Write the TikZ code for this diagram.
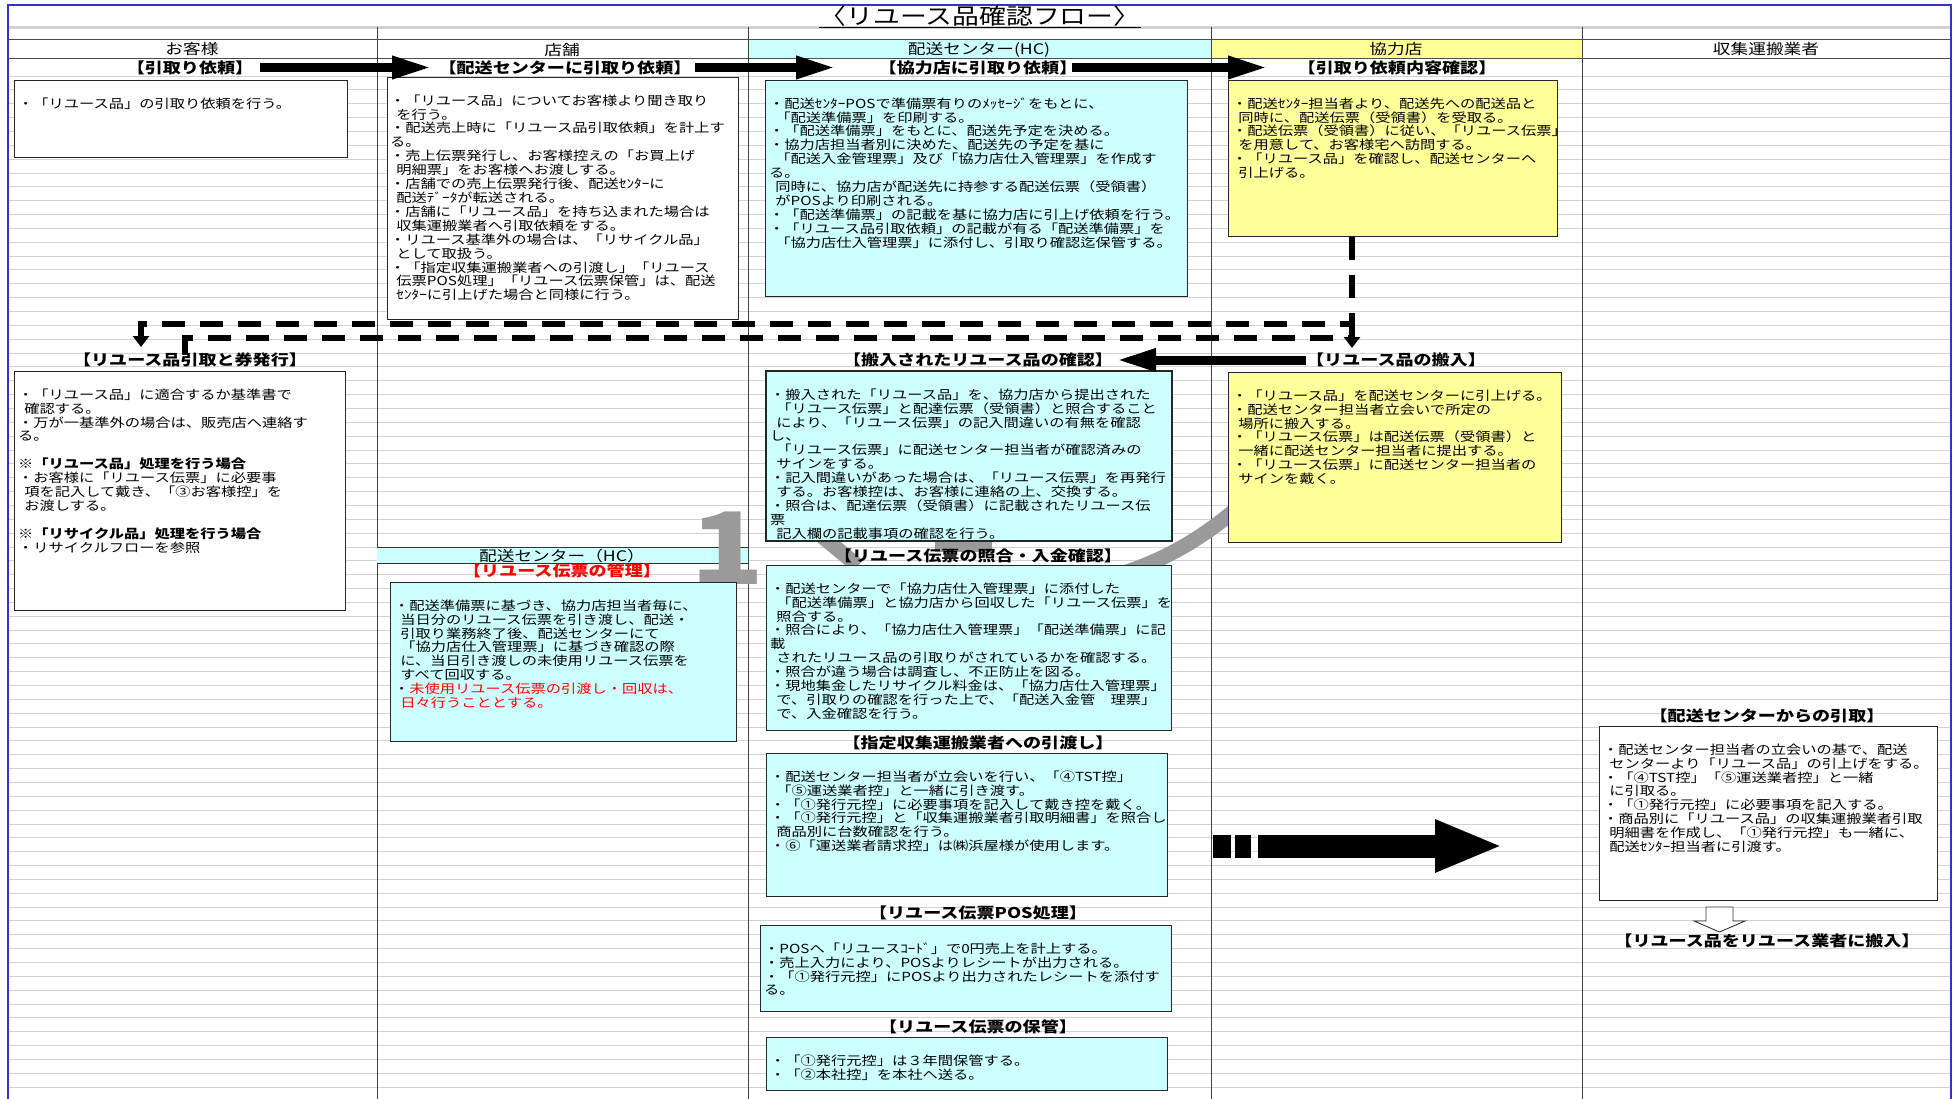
\documentclass[tikz,border=0pt]{standalone}
\usepackage{fontspec}
\newfontfamily\jp[FakeStretch=1.22]{Noto Sans CJK JP}
\usetikzlibrary{arrows.meta}
\definecolor{cyanbox}{HTML}{CCFFFF}
\definecolor{yelbox}{HTML}{FFFF99}
\definecolor{gridc}{HTML}{D2D2D2}
\definecolor{bordc}{HTML}{3333CC}
\definecolor{wmark}{HTML}{9A9A9A}
\newcommand\bodyfont{\jp\fontsize{12.5}{13.9}\selectfont}
\newcommand\lblfont{\jp\bfseries\fontsize{14.8}{15}\selectfont}
\newcommand\hdrfont{\jp\fontsize{14.5}{15}\selectfont}
\newcommand\ind{\hspace*{0.5em}}
\newcommand\fl{\rule{0pt}{11pt}}
\tikzset{
 bx/.style={draw=black!85, line width=1.1pt, inner sep=0pt, anchor=north west},
 cbx/.style={bx, fill=cyanbox},
 ybx/.style={bx, fill=yelbox},
 wbx/.style={bx, fill=white},
 txt/.style={anchor=north west, inner sep=0pt, align=left, font=\bodyfont},
 lbl/.style={inner sep=0pt, font=\lblfont},
 hdr/.style={inner sep=0pt, font=\hdrfont},
 flow/.style={line width=9pt, -{Triangle[length=40pt 0, width=21pt 0]}},
 dline/.style={line width=5.5pt, dash pattern=on 23pt off 15pt},
 dtip/.style={line width=5.5pt, -{Triangle[length=11pt 0, width=16pt 0]}},
 gridl/.style={gridc, line width=0.8pt},
 coll/.style={black!75, line width=1pt},
 wm/.style={wmark, line width=15pt},
}
\begin{document}
\begin{tikzpicture}[x=1pt,y=-1pt]
\useasboundingbox (0,0) rectangle (1959,1099);
\fill[white] (0,0) rectangle (1959,1099);
% grid rows
\foreach \i in {0,...,74}{\draw[gridl] (8,{76+13.85*\i}) -- (1951,{76+13.85*\i});}
% header cells
\fill[cyanbox] (748,40) rectangle (1211,58.7);
\fill[yelbox] (1211,40) rectangle (1582,58.7);
\draw[gridc, line width=3pt] (8,27.5) -- (1951,27.5);
\draw[black!70, line width=1pt] (8,40) -- (1951,40);
\draw[black!70, line width=1pt] (8,58.7) -- (1951,58.7);
\foreach \x in {377,748,1211,1582}{\draw[coll] (\x,27.5) -- (\x,1099);}
\draw[bordc, line width=2pt] (8,1099) -- (8,5) -- (1951,5) -- (1951,1099);
% title
\node[inner sep=0pt, font=\jp\fontsize{22}{23}\selectfont] (title) at (980,16) {〈リユース品確認フロー〉};
\draw[line width=1.3pt] ([yshift=-1pt]title.south west) -- ([yshift=-1pt]title.south east);
% column headers
\node[hdr] (h1) at (192,49.5) {お客様};
\node[hdr] (h2) at (562,49.5) {店舗};
\node[hdr] (h3) at (979,49.5) {配送センター(HC)};
\node[hdr] (h4) at (1396,49.5) {協力店};
\node[hdr] (h5) at (1766,49.5) {収集運搬業者};
% HC band in store column
\fill[cyanbox] (377,547) rectangle (748,563);
\draw[black!80, line width=1pt] (377,547) -- (748,547);
\draw[black!80, line width=1pt] (377,563) -- (748,563);
\node[lbl, font=\jp\fontsize{14.5}{15}\selectfont] (hcband) at (562,555.5) {配送センター（HC）};
% watermark fragments
\node[inner sep=0pt, text=wmark, font=\jp\bfseries\fontsize{100}{100}\selectfont] (wm1) at (728,548) {1};
\draw[wm] (1255,492) .. controls (1200,545) and (1140,575) .. (1072,585);
\draw[wm] (812,528) -- (858,566);
\fill[wmark] (935,532) rectangle (992,552);
% boxes
\node[wbx, minimum width=333pt, minimum height=77pt] (A) at (14,80) {};
\node[wbx, minimum width=351pt, minimum height=242pt] (B) at (387,77) {};
\node[cbx, minimum width=422pt, minimum height=216pt] (C) at (765,80) {};
\node[ybx, minimum width=329pt, minimum height=156pt] (D) at (1228,80) {};
\node[wbx, minimum width=331pt, minimum height=239pt] (E) at (14,371) {};
\node[cbx, minimum width=405pt, minimum height=169pt] (F) at (766,371) {};
\node[ybx, minimum width=333pt, minimum height=170pt] (G) at (1228,372) {};
\node[cbx, minimum width=346pt, minimum height=159pt] (H) at (390,582) {};
\node[cbx, minimum width=405pt, minimum height=165pt] (I) at (766,565) {};
\node[cbx, minimum width=401pt, minimum height=143pt] (J) at (766,753) {};
\node[cbx, minimum width=411pt, minimum height=86pt] (K) at (760,925) {};
\node[cbx, minimum width=401pt, minimum height=53pt] (L) at (766,1037) {};
\node[wbx, minimum width=338pt, minimum height=174pt] (M) at (1599,726) {};
% box texts
\node[txt] (At) at (18,97) {\fl・「リユース品」の引取り依頼を行う。};
\node[txt] (Bt) at (390,94) {\fl・「リユース品」についてお客様より聞き取り\\
\ind を行う。\\
・配送売上時に「リユース品引取依頼」を計上す\\
る。\\
・売上伝票発行し、お客様控えの「お買上げ\\
\ind 明細票」をお客様へお渡しする。\\
・店舗での売上伝票発行後、配送ｾﾝﾀｰに\\
\ind 配送ﾃﾞｰﾀが転送される。\\
・店舗に「リユース品」を持ち込まれた場合は\\
\ind 収集運搬業者へ引取依頼をする。\\
・リユース基準外の場合は、「リサイクル品」\\
\ind として取扱う。\\
・「指定収集運搬業者への引渡し」「リユース\\
\ind 伝票POS処理」「リユース伝票保管」は、配送\\
\ind ｾﾝﾀｰに引上げた場合と同様に行う。};
\node[txt] (Ct) at (769,97) {\fl・配送ｾﾝﾀｰPOSで準備票有りのﾒｯｾｰｼﾞをもとに、\\
\ind「配送準備票」を印刷する。\\
・「配送準備票」をもとに、配送先予定を決める。\\
・協力店担当者別に決めた、配送先の予定を基に\\
\ind「配送入金管理票」及び「協力店仕入管理票」を作成す\\
る。\\
\ind 同時に、協力店が配送先に持参する配送伝票（受領書）\\
\ind がPOSより印刷される。\\
・「配送準備票」の記載を基に協力店に引上げ依頼を行う。\\
・「リユース品引取依頼」の記載が有る「配送準備票」を\\
\ind「協力店仕入管理票」に添付し、引取り確認迄保管する。};
\node[txt] (Dt) at (1232,97) {\fl・配送ｾﾝﾀｰ担当者より、配送先への配送品と\\
\ind 同時に、配送伝票（受領書）を受取る。\\
・配送伝票（受領書）に従い、「リユース伝票」\\
\ind を用意して、お客様宅へ訪問する。\\
・「リユース品」を確認し、配送センターへ\\
\ind 引上げる。};
\node[txt] (Et) at (18,388) {\fl・「リユース品」に適合するか基準書で\\
\ind 確認する。\\
・万が一基準外の場合は、販売店へ連絡す\\
る。\\
\mbox{}\\
\textbf{※「リユース品」処理を行う場合}\\
・お客様に「リユース伝票」に必要事\\
\ind 項を記入して戴き、「③お客様控」を\\
\ind お渡しする。\\
\mbox{}\\
\textbf{※「リサイクル品」処理を行う場合}\\
・リサイクルフローを参照};
\begin{scope}
\clip (766,371) rectangle (1171,539);
\node[txt] (Ft) at (770,388) {\fl・搬入された「リユース品」を、協力店から提出された\\
\ind「リユース伝票」と配達伝票（受領書）と照合すること\\
\ind により、「リユース伝票」の記入間違いの有無を確認\\
し、\\
\ind「リユース伝票」に配送センター担当者が確認済みの\\
\ind サインをする。\\
・記入間違いがあった場合は、「リユース伝票」を再発行\\
\ind する。お客様控は、お客様に連絡の上、交換する。\\
・照合は、配達伝票（受領書）に記載されたリユース伝\\
票\\
\ind 記入欄の記載事項の確認を行う。};
\end{scope}
\draw[black!85, line width=1.1pt] (F.north west) rectangle (F.south east);
\node[txt] (Gt) at (1232,389) {\fl・「リユース品」を配送センターに引上げる。\\
・配送センター担当者立会いで所定の\\
\ind 場所に搬入する。\\
・「リユース伝票」は配送伝票（受領書）と\\
\ind 一緒に配送センター担当者に提出する。\\
・「リユース伝票」に配送センター担当者の\\
\ind サインを戴く。};
\node[txt] (Ht) at (394,599) {\fl・配送準備票に基づき、協力店担当者毎に、\\
\ind 当日分のリユース伝票を引き渡し、配送・\\
\ind 引取り業務終了後、配送センターにて\\
\ind「協力店仕入管理票」に基づき確認の際\\
\ind に、当日引き渡しの未使用リユース伝票を\\
\ind すべて回収する。\\
・\textcolor{red}{未使用リユース伝票の引渡し・回収は、}\\
\ind\textcolor{red}{日々行うこととする。}};
\node[txt] (It) at (770,582) {\fl・配送センターで「協力店仕入管理票」に添付した\\
\ind「配送準備票」と協力店から回収した「リユース伝票」を\\
\ind 照合する。\\
・照合により、「協力店仕入管理票」「配送準備票」に記\\
載\\
\ind されたリユース品の引取りがされているかを確認する。\\
・照合が違う場合は調査し、不正防止を図る。\\
・現地集金したリサイクル料金は、「協力店仕入管理票」\\
\ind で、引取りの確認を行った上で、「配送入金管　理票」\\
\ind で、入金確認を行う。};
\node[txt] (Jt) at (770,770) {\fl・配送センター担当者が立会いを行い、「④TST控」\\
\ind「⑤運送業者控」と一緒に引き渡す。\\
・「①発行元控」に必要事項を記入して戴き控を戴く。\\
・「①発行元控」と「収集運搬業者引取明細書」を照合し\\
\ind 商品別に台数確認を行う。\\
・⑥「運送業者請求控」は㈱浜屋様が使用します。};
\node[txt] (Kt) at (764,942) {\fl・POSへ「リユースｺｰﾄﾞ」で0円売上を計上する。\\
・売上入力により、POSよりレシートが出力される。\\
・「①発行元控」にPOSより出力されたレシートを添付す\\
る。};
\node[txt] (Lt) at (770,1054) {\fl・「①発行元控」は３年間保管する。\\
・「②本社控」を本社へ送る。};
\node[txt] (Mt) at (1603,743) {\fl・配送センター担当者の立会いの基で、配送\\
\ind センターより「リユース品」の引上げをする。\\
・「④TST控」「⑤運送業者控」と一緒\\
\ind に引取る。\\
・「①発行元控」に必要事項を記入する。\\
・商品別に「リユース品」の収集運搬業者引取\\
\ind 明細書を作成し、「①発行元控」も一緒に、\\
\ind 配送ｾﾝﾀｰ担当者に引渡す。};
% labels
\node[lbl] (l1) at (190,67.5) {【引取り依頼】};
\node[lbl] (l2) at (565,67.5) {【配送センターに引取り依頼】};
\node[lbl] (l3) at (978,67.5) {【協力店に引取り依頼】};
\node[lbl] (l4) at (1397,67.5) {【引取り依頼内容確認】};
\node[lbl] (l5) at (190,360) {【リユース品引取と券発行】};
\node[lbl] (l6) at (978,360) {【搬入されたリユース品の確認】};
\node[lbl] (l7) at (1396,360) {【リユース品の搬入】};
\node[lbl, text=red] (l8) at (562,571) {【リユース伝票の管理】};
\node[lbl] (l9) at (978,555.5) {【リユース伝票の照合・入金確認】};
\node[lbl] (l10) at (978,743) {【指定収集運搬業者への引渡し】};
\node[lbl] (l11) at (978,913) {【リユース伝票POS処理】};
\node[lbl] (l12) at (978,1027) {【リユース伝票の保管】};
\node[lbl] (l13) at (1767,716) {【配送センターからの引取】};
\node[lbl] (l14) at (1767,941) {【リユース品をリユース業者に搬入】};
% flow arrows
\coordinate (a1s) at (260,67.5); \coordinate (a1e) at (432,67.5);
\coordinate (a2s) at (695,67.5); \coordinate (a2e) at (836,67.5);
\coordinate (a3s) at (1072,67.5); \coordinate (a3e) at (1268,67.5);
\coordinate (a4s) at (1306,360); \coordinate (a4e) at (1116,360);
\draw[flow] (a1s) -- (a1e);
\draw[flow] (a2s) -- (a2e);
\draw[flow] (a3s) -- (a3e);
\draw[flow] (a4s) -- (a4e);
% dashed return lines
\coordinate (p1) at (1352,324); \coordinate (p2) at (141,324); \coordinate (p3) at (141,347);
\draw[dline] (D.south -| p1) -- (p1) -- (p2);
\draw[dtip] ([yshift=2.75pt]p2) -- (p3);
\coordinate (q0) at (185,353); \coordinate (q1) at (185,338); \coordinate (q2) at (1352,338); \coordinate (q3) at (1352,348);
\draw[dline] (q0) -- (q1) -- (q2);
\draw[dtip] ([yshift=2pt]q2 |- p1) -- (q3);
% big arrow to collector
\coordinate (b1) at (1213,846); \coordinate (b2) at (1503,846);
\draw[line width=23pt, dash pattern=on 18pt off 4pt on 16pt off 7pt on 400pt off 0pt, -{Triangle[length=68pt 0, width=48pt 0]}] (b1) -- (b2);
% hollow down arrow
\draw[line width=0.9pt, black!80, fill=white] (1706,907) -- (1733,907) -- (1733,921) -- (1745,921) -- (1719.5,932) -- (1694,921) -- (1706,921) -- cycle;
\end{tikzpicture}
\end{document}
